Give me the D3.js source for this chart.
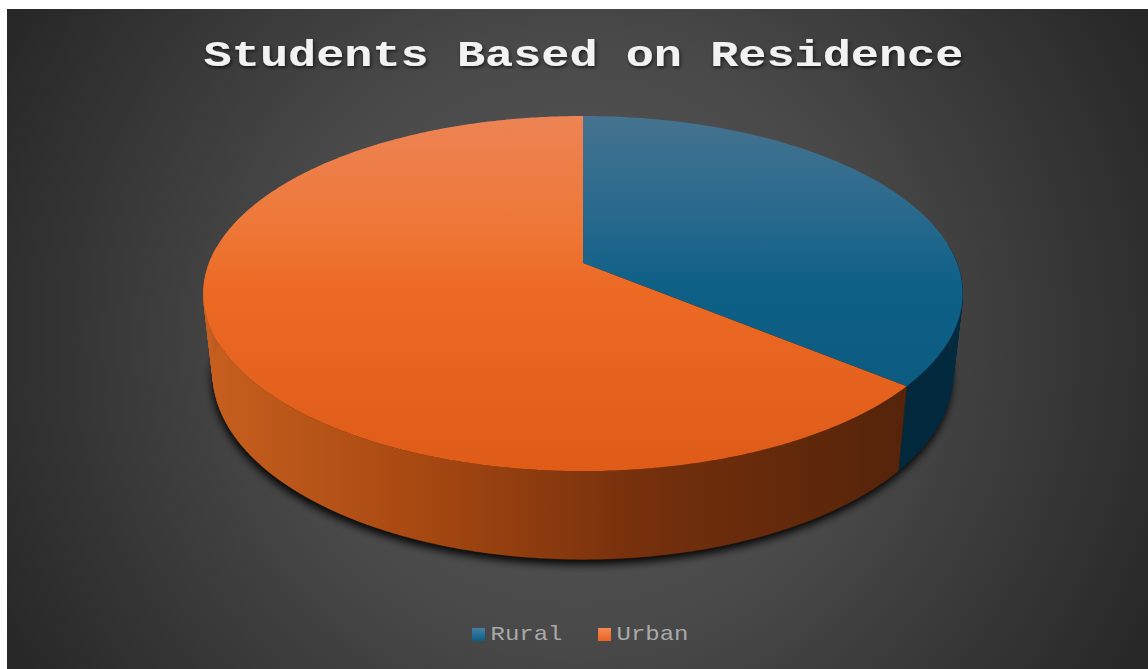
<!DOCTYPE html>
<html>
<head>
<meta charset="utf-8">
<script src="https://cdn.jsdelivr.net/npm/d3@7"></script>
<style>
  html, body { margin: 0; padding: 0; background: #fff; overflow: hidden; }
  svg { display: block; }
</style>
</head>
<body>
<svg id="chart" width="1148" height="669"></svg>
<script>
const chartTitle = "Students Based on Residence";
const categories = ["Rural", "Urban"];
const shares = [36, 64];
const topStops = [
  [["0%", "#45738f"], ["30%", "#26688d"], ["48%", "#0e6087"], ["100%", "#0a567c"]],
  [["0%", "#ed8354"], ["30%", "#ee7839"], ["48%", "#ec6a24"], ["100%", "#de5c18"]]
];
const sideStops = [
  [["0%", "#02283c"], ["100%", "#03293e"]],
  [["0%", "#c65f1e"], ["30%", "#a84912"], ["62%", "#76300c"], ["100%", "#55240a"]]
];
const legendStops = [
  [["0%", "#467ea3"], ["100%", "#0a5f88"]],
  [["0%", "#f58a55"], ["100%", "#ec6420"]]
];

const width = 1148, height = 669;
const svg = d3.select("#chart");
const defs = svg.append("defs");

function addLinear(id, stops, attrs) {
  const g = defs.append("linearGradient").attr("id", id).attr("gradientUnits", "userSpaceOnUse");
  Object.entries(attrs).forEach(([k, v]) => g.attr(k, v));
  stops.forEach(([o, c]) => g.append("stop").attr("offset", o).attr("stop-color", c));
}

// Panel background: soft spotlight on charcoal
const bg = defs.append("radialGradient").attr("id", "panelGlow")
  .attr("gradientUnits", "userSpaceOnUse")
  .attr("cx", 577).attr("cy", 339).attr("r", 640);
[["0%", "#585858"], ["45%", "#4a4a4a"], ["100%", "#282828"]]
  .forEach(([o, c]) => bg.append("stop").attr("offset", o).attr("stop-color", c));
svg.append("rect").attr("x", 7).attr("y", 9).attr("width", width - 7).attr("height", height - 9)
  .attr("fill", "url(#panelGlow)");

defs.append("filter").attr("id", "dropBlur").attr("x", "-10%").attr("y", "-10%").attr("width", "120%").attr("height", "120%")
  .append("feGaussianBlur").attr("stdDeviation", 4);
const titleShadow = defs.append("filter").attr("id", "titleShadow");
titleShadow.append("feDropShadow").attr("dx", 1).attr("dy", 2).attr("stdDeviation", 1.5)
  .attr("flood-color", "#000").attr("flood-opacity", 0.6);

// Perspective view of the disc: unit-circle point -> screen, for the top and bottom faces
const tilt = -0.172;
const topFace = { cx: 583, y0: 263, a: 373.9, b: 172.3 };
const baseFace = { cx: 583, y0: 342, a: 364.5, b: 180 };
function project(face, theta) {
  const u = Math.sin(theta), v = -Math.cos(theta);
  const w = 1 + tilt * v;
  return [face.cx + face.a * u / w, face.y0 + face.b * v / w];
}
function rimPoints(face, start, end) {
  const n = Math.max(2, Math.ceil((end - start) / 0.01));
  return d3.range(n + 1).map(i => ({
    theta: start + (end - start) * i / n,
    at: project(face, start + (end - start) * i / n)
  }));
}

const arcs = d3.pie().sort(null).value(d => d)(shares);

// Shadow under the disc
const hull = d3.range(0, 2 * Math.PI, 0.01).map(t => project(baseFace, t));
svg.append("path")
  .attr("d", d3.line()(hull) + "Z")
  .attr("transform", "translate(-1,5)")
  .attr("fill", "#000")
  .attr("fill-opacity", 0.95)
  .attr("filter", "url(#dropBlur)");

// Gradients
arcs.forEach((d, i) => {
  addLinear("top" + i, topStops[i], { x1: 0, y1: 116, x2: 0, y2: 471 });
  addLinear("side" + i, sideStops[i], i === 0
    ? { x1: 899, y1: 0, x2: 962, y2: 0 }
    : { x1: 210, y1: 0, x2: 899, y2: 0 });
});

// Side wall of each slice: narrow strips between the two rims, front-facing part only
const sides = svg.append("g");
arcs.forEach((d, i) => {
  const upper = rimPoints(topFace, d.startAngle, d.endAngle);
  const lower = rimPoints(baseFace, d.startAngle, d.endAngle);
  const strips = upper.slice(1).map((p, k) => {
    if (Math.cos(p.theta) > 0.1) return "";
    return `M${upper[k].at}L${p.at}L${lower[k + 1].at}L${lower[k].at}Z`;
  }).join("");
  sides.append("path").attr("d", strips).attr("fill", `url(#side${i})`)
    .attr("stroke", `url(#side${i})`).attr("stroke-width", 0.4);
});

// Top face
const apex = [topFace.cx, topFace.y0];
const faces = svg.append("g");
arcs.forEach((d, i) => {
  const rim = rimPoints(topFace, d.startAngle, d.endAngle).map(p => p.at);
  faces.append("path")
    .attr("d", d3.line()([apex, ...rim]) + "Z")
    .attr("fill", `url(#top${i})`);
});

// Title, widened to the typewriter proportions of the heading
svg.append("text")
  .attr("transform", "translate(583.5,66) scale(1.285,1)")
  .attr("text-anchor", "middle")
  .attr("font-family", "'Liberation Mono', monospace")
  .attr("font-weight", 700)
  .attr("font-size", 36.5)
  .attr("fill", "#f2f2f2")
  .attr("filter", "url(#titleShadow)")
  .text(chartTitle);

// Legend
const legendX = [472, 598];
const legend = svg.append("g");
categories.forEach((c, i) => {
  addLinear("swatch" + i, legendStops[i], { x1: 0, y1: 628, x2: 0, y2: 641 });
  legend.append("rect")
    .attr("x", legendX[i]).attr("y", 628).attr("width", 13).attr("height", 13)
    .attr("fill", `url(#swatch${i})`);
  legend.append("text")
    .attr("transform", `translate(${legendX[i] + 18.5},640) scale(1.2,1)`)
    .attr("font-family", "'Liberation Mono', monospace")
    .attr("font-size", 20)
    .attr("fill", "#a9a9a9")
    .text(c);
});
</script>
</body>
</html>
